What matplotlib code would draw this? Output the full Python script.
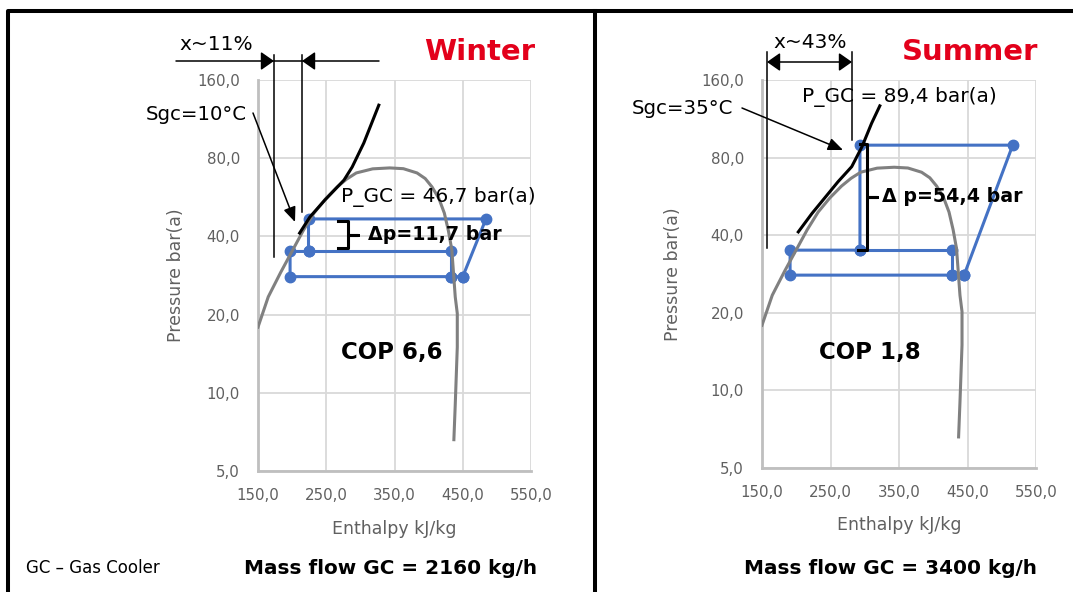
import matplotlib
matplotlib.use("Agg")
import matplotlib.pyplot as plt
from matplotlib.lines import Line2D
from matplotlib.patches import FancyArrowPatch
from matplotlib.ticker import FixedLocator, FuncFormatter, NullLocator

# saturation dome of CO2, h in kJ/kg, p in bar(a)
dome_h = [150, 165, 183, 201, 216, 232, 249, 266, 280, 294, 318, 343, 363, 383, 395, 405, 415, 423, 429, 434, 439, 442, 442, 439, 437]
dome_p = [17.9, 23.4, 29.0, 35.5, 42.0, 49.2, 55.8, 62.0, 66.5, 70.2, 72.8, 73.4, 72.9, 70.2, 66.8, 62.0, 56.0, 49.2, 42.0, 35.5, 23.4, 20.2, 15.0, 9.0, 6.6]

# winter cycle
winter_cycle_h = [450, 484, 224, 224, 197, 197, 433, 450]
winter_cycle_p = [28.0, 46.7, 46.7, 35.0, 35.0, 28.0, 28.0, 28.0]
winter_branch_h = [224, 433, 433]
winter_branch_p = [35.0, 35.0, 28.0]
winter_sgc_h = [211, 226, 248, 276, 288, 305, 327]
winter_sgc_p = [41.2, 47.5, 55.2, 65.9, 74.0, 91.5, 128.0]

# summer cycle
summer_cycle_h = [445, 516, 293, 293, 191, 191, 428, 445]
summer_cycle_p = [28.0, 89.4, 89.4, 35.0, 35.0, 28.0, 28.0, 28.0]
summer_branch_h = [293, 428, 428]
summer_branch_p = [35.0, 35.0, 28.0]
summer_sgc_h = [203, 223, 261, 281, 296, 310, 322]
summer_sgc_p = [41.2, 48.6, 64.5, 73.8, 88.2, 108.7, 127.0]

x_ticks = [150, 250, 350, 450, 550]
y_ticks = [5, 10, 20, 40, 80, 160]

BLUE = "#4472c4"
GREY = "#808080"
RED = "#e3001b"
W, H = 1073, 592

fig = plt.figure(figsize=(W / 100, H / 100), dpi=100)


def fxy(x, y):
    # reference pixel -> figure fraction
    return x / W, 1 - y / H


def fig_line(xs, ys, lw=1.1, color="k"):
    pts = [fxy(x, y) for x, y in zip(xs, ys)]
    fig.add_artist(Line2D([p[0] for p in pts], [p[1] for p in pts], lw=lw, color=color,
                          transform=fig.transFigure, solid_joinstyle="round"))


def fig_arrow(a, b, style, scale, lw=1.1):
    fig.add_artist(FancyArrowPatch(fxy(*a), fxy(*b), transform=fig.transFigure,
                                   arrowstyle=style, mutation_scale=scale, lw=lw,
                                   color="k", shrinkA=0, shrinkB=0))


def fig_text(x, y, s, **kw):
    fig.text(*fxy(x, y), s, **kw)


fmt = FuncFormatter(lambda v, _: f"{v:.1f}".replace(".", ","))


def setup_axes(rect):
    ax = fig.add_axes(rect)
    ax.set_yscale("log", base=2)
    ax.set_xlim(150, 550)
    ax.set_ylim(5, 160)
    ax.yaxis.set_major_locator(FixedLocator(y_ticks))
    ax.yaxis.set_minor_locator(NullLocator())
    ax.xaxis.set_major_locator(FixedLocator(x_ticks))
    ax.xaxis.set_major_formatter(fmt)
    ax.yaxis.set_major_formatter(fmt)
    ax.grid(True, color="#d9d9d9", lw=1.3)
    ax.set_axisbelow(True)
    for s in ["top", "right"]:
        ax.spines[s].set_visible(False)
    for s in ["left", "bottom"]:
        ax.spines[s].set_color("#bfbfbf")
        ax.spines[s].set_linewidth(2)
    ax.tick_params(length=0, labelsize=10.8, labelcolor="#606060")
    ax.tick_params(axis="y", pad=13)
    ax.tick_params(axis="x", pad=12)
    ax.set_xlabel("Enthalpy kJ/kg", fontsize=12.5, color="#606060", va="center")
    ax.set_ylabel("Pressure bar(a)", fontsize=12.5, color="#606060", va="center")
    ax.xaxis.set_label_coords(0.5, -0.148)
    return ax


def draw_cycle(ax, ch, cp, bh, bp, sh, sp):
    ax.plot(ch, cp, color=BLUE, lw=2.2, marker="o", ms=7.5, zorder=2)
    ax.plot(bh, bp, color=BLUE, lw=2.2, marker="o", ms=7.5, zorder=2)
    ax.plot(dome_h, dome_p, color=GREY, lw=2.2, zorder=3)
    ax.plot(sh, sp, color="k", lw=2.2, zorder=4)


ax1 = setup_axes([258 / W, 1 - 471 / H, 273 / W, 391 / H])
ax1.yaxis.set_label_coords(-0.30, 0.5)
draw_cycle(ax1, winter_cycle_h, winter_cycle_p, winter_branch_h, winter_branch_p,
           winter_sgc_h, winter_sgc_p)

ax2 = setup_axes([762 / W, 1 - 468 / H, 274 / W, 388 / H])
ax2.yaxis.set_label_coords(-0.325, 0.5)
draw_cycle(ax2, summer_cycle_h, summer_cycle_p, summer_branch_h, summer_branch_p,
           summer_sgc_h, summer_sgc_p)

# frame
fig_line([8, 8, 1073], [592, 11, 11], lw=2.9)
fig_line([594.5, 594.5], [11, 592], lw=2.9)

# winter annotations
fig_line([274, 274], [55, 257])
fig_line([302, 302], [55, 212])
fig_line([274, 302], [61, 61])
fig_arrow((176, 61), (274, 61), "-|>,head_length=0.5,head_width=0.35", 16)
fig_arrow((379, 61), (302, 61), "-|>,head_length=0.5,head_width=0.35", 16)
fig_text(216, 44, "x~11%", fontsize=14.5, ha="center", va="center")
fig_text(247, 114, "Sgc=10°C", fontsize=14.2, ha="right", va="center")
fig_arrow((253, 113), (295, 222), "-|>,head_length=0.6,head_width=0.25", 15)
fig_text(341, 197, "P_GC = 46,7 bar(a)", fontsize=14.5, ha="left", va="center")
fig_line([338, 348, 348, 358, 348, 348, 338], [221, 221, 235, 235, 235, 248, 248], lw=2.2)
fig_text(368, 235, "Δp=11,7 bar", fontsize=13.7, fontweight="bold", ha="left", va="center")
fig_text(480, 52, "Winter", fontsize=21, fontweight="bold", color=RED, ha="center", va="center")
fig_text(392, 352, "COP 6,6", fontsize=16.5, fontweight="bold", ha="center", va="center")
fig_text(391, 568, "Mass flow GC = 2160 kg/h", fontsize=14.4, fontweight="bold", ha="center", va="center")
fig_text(26, 568, "GC – Gas Cooler", fontsize=12, ha="left", va="center")

# summer annotations
fig_line([767, 767], [52, 248])
fig_line([852, 852], [52, 140])
fig_arrow((767, 62), (852, 62), "<|-|>,head_length=0.5,head_width=0.35", 16)
fig_text(810, 43, "x~43%", fontsize=14.5, ha="center", va="center")
fig_text(733, 108, "Sgc=35°C", fontsize=14.2, ha="right", va="center")
fig_arrow((742, 108), (843, 150), "-|>,head_length=0.6,head_width=0.25", 15)
fig_text(802, 97, "P_GC = 89,4 bar(a)", fontsize=14.5, ha="left", va="center")
fig_line([860, 867, 867, 877, 867, 867, 858], [144, 144, 197, 197, 197, 250, 250], lw=2.2)
fig_text(882, 197, "Δ p=54,4 bar", fontsize=13.7, fontweight="bold", ha="left", va="center")
fig_text(970, 52, "Summer", fontsize=21, fontweight="bold", color=RED, ha="center", va="center")
fig_text(870, 353, "COP 1,8", fontsize=16.5, fontweight="bold", ha="center", va="center")
fig_text(890, 569, "Mass flow GC = 3400 kg/h", fontsize=14.4, fontweight="bold", ha="center", va="center")

fig.savefig("out.png", dpi=100)
